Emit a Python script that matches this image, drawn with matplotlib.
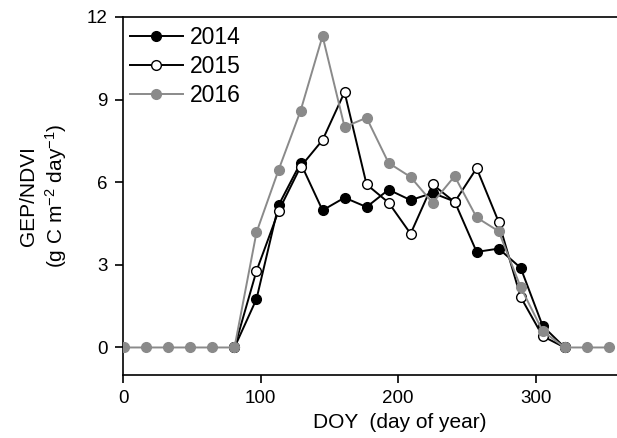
import matplotlib
matplotlib.use("Agg")
import matplotlib.pyplot as plt

plt.rcParams['font.family'] = ['Liberation Sans', 'DejaVu Sans']
plt.rcParams['mathtext.fontset'] = 'custom'
plt.rcParams['mathtext.rm'] = 'Liberation Sans'
plt.rcParams['mathtext.it'] = 'Liberation Sans'
plt.rcParams['mathtext.default'] = 'regular'

# 16-day composite periods (day of year)
doy_2016 = [1, 17, 33, 49, 65, 81, 97, 113, 129, 145, 161, 177, 193, 209,
            225, 241, 257, 273, 289, 305, 321, 337, 353]
gep_2016 = [0, 0, 0, 0, 0, 0, 4.18, 6.44, 8.59, 11.31, 8.01, 8.34, 6.70, 6.19,
            5.25, 6.22, 4.72, 4.22, 2.19, 0.59, 0, 0, 0]

doy_growing = [81, 97, 113, 129, 145, 161, 177, 193, 209, 225, 241, 257,
               273, 289, 305, 321]
gep_2014 = [0, 1.76, 5.16, 6.70, 4.98, 5.44, 5.10, 5.73, 5.35, 5.61, 5.30,
            3.47, 3.59, 2.89, 0.78, 0]
gep_2015 = [0, 2.78, 4.95, 6.56, 7.53, 9.27, 5.92, 5.26, 4.13, 5.92, 5.28,
            6.51, 4.56, 1.83, 0.41, 0]

x_ticks = [0, 100, 200, 300]
y_ticks = [0, 3, 6, 9, 12]

fig = plt.figure(figsize=(6.17, 4.38), dpi=100)
ax = fig.add_axes([0.1994, 0.1438, 0.8006, 0.8174])

gray = '#8a8a8a'
ms = 7
ax.plot(doy_growing, gep_2014, color='black', lw=1.4, marker='o', ms=ms,
        mfc='black', mec='black', mew=1.0, label='2014', zorder=3)
ax.plot(doy_growing, gep_2015, color='black', lw=1.4, marker='o', ms=ms,
        mfc='white', mec='black', mew=1.0, label='2015', zorder=4)
ax.plot(doy_2016, gep_2016, color=gray, lw=1.4, marker='o', ms=ms,
        mfc=gray, mec=gray, mew=1.0, label='2016', zorder=5)

ax.set_xlim(0, 359)
ax.set_ylim(-1, 12)
ax.set_xticks(x_ticks)
ax.set_yticks(y_ticks)

for s in ['left', 'bottom', 'top']:
    ax.spines[s].set_linewidth(1.2)
ax.spines['right'].set_visible(False)

ax.tick_params(axis='both', direction='out', length=6, width=1.2,
               labelsize=13.5, pad=5)
ax.tick_params(axis='x', pad=5)

ax.set_xlabel('DOY  (day of year)', fontsize=15)
ax.xaxis.set_label_coords(0.561, -0.105)
ax.set_ylabel('GEP/NDVI\n(g C m$^{-2}$ day$^{-1}$)', fontsize=15,
              labelpad=13, linespacing=1.25)

leg = ax.legend(loc='upper left', fontsize=16.5, frameon=False,
                handlelength=2.3, handletextpad=0.3, labelspacing=0.28,
                borderpad=0, borderaxespad=0,
                bbox_to_anchor=(0.014, 0.976))

fig.savefig('out.png', dpi=100)
